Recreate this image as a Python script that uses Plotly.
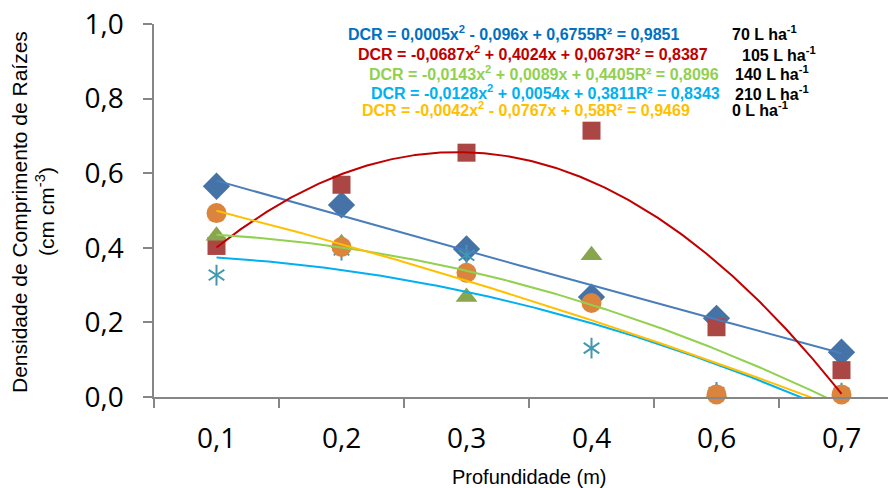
import numpy as np
import plotly.graph_objects as go

# ---- data ----
depth_labels = ["0,1", "0,2", "0,3", "0,4", "0,6", "0,7"]
y_ticks = [0.0, 0.2, 0.4, 0.6, 0.8, 1.0]
y_tick_labels = ["0,0", "0,2", "0,4", "0,6", "0,8", "1,0"]
series_names = ["70 L ha-1", "105 L ha-1", "140 L ha-1", "210 L ha-1", "0 L ha-1"]
dcr_70 = [0.565, 0.515, 0.397, 0.268, 0.211, 0.120]
dcr_105 = [0.405, 0.569, 0.655, 0.714, 0.187, 0.072]
dcr_140 = [0.432, 0.412, 0.268, 0.380, 0.012, 0.010]
dcr_210 = [0.327, 0.394, 0.380, 0.131, 0.012, 0.010]
dcr_0 = [0.493, 0.402, 0.333, 0.252, 0.007, 0.007]
# trendline coefficients shown on the chart (a x^2 + b x + c), x = category index
coef_70 = [0.0005, -0.096, 0.6755]
coef_105 = [-0.0687, 0.4024, 0.0673]
coef_140 = [-0.0143, 0.0089, 0.4405]
coef_210 = [-0.0128, 0.0054, 0.3811]
coef_0 = [-0.0042, -0.0767, 0.58]
eq_texts = [
    "DCR = 0,0005x<sup>2</sup> - 0,096x + 0,6755R² = 0,9851",
    "DCR = -0,0687x<sup>2</sup> + 0,4024x + 0,0673R² = 0,8387",
    "DCR = -0,0143x<sup>2</sup> + 0,0089x + 0,4405R² = 0,8096",
    "DCR = -0,0128x<sup>2</sup> + 0,0054x + 0,3811R² = 0,8343",
    "DCR = -0,0042x<sup>2</sup> - 0,0767x + 0,58R² = 0,9469",
]
dose_labels = ["70 L ha<sup>-1</sup>", "105 L ha<sup>-1</sup>", "140 L ha<sup>-1</sup>",
               "210 L ha<sup>-1</sup>", "0 L ha<sup>-1</sup>"]

# page body has an 8px margin, so the figure is 8px smaller and offset
OFF = 8
W, H = 896 - OFF, 488 - OFF
ML, MR, MT = 154 - OFF, 0, 24 - OFF
PH = 373
MB = H - MT - PH
PW = W - ML - MR

xi = list(range(1, len(depth_labels) + 1))

fig = go.Figure()

# markers
marker_specs = [
    (dcr_70, dict(symbol="diamond", size=21, color="#4572A7")),
    (dcr_105, dict(symbol="square", size=18, color="#AA4643")),
    (dcr_140, dict(symbol="triangle-up", size=19, color="#89A54E")),
]
for (vals, mk), name in zip(marker_specs, series_names[:3]):
    fig.add_trace(go.Scatter(x=xi, y=vals, mode="markers", name=name,
                             marker=dict(line=dict(width=0), **mk), cliponaxis=False,
                             showlegend=False))
for sym in ["y-up-open", "y-down-open"]:
    fig.add_trace(go.Scatter(x=xi, y=dcr_210, mode="markers", name=series_names[3],
                             marker=dict(symbol=sym, size=13, color="#4198AF",
                                         line=dict(width=2, color="#4198AF")),
                             cliponaxis=False, showlegend=False))
fig.add_trace(go.Scatter(x=xi, y=dcr_0, mode="markers", name=series_names[4],
                         marker=dict(symbol="circle", size=20, color="#DB843D",
                                     line=dict(width=0)),
                         cliponaxis=False, showlegend=False))

# trendlines
xs = np.linspace(1, 6, 300)
line_specs = [(coef_70, "#4A7EBB"), (coef_105, "#C00000"), (coef_140, "#92D050"),
              (coef_210, "#00B0F0"), (coef_0, "#FFC000")]
for (a, b, c), col in line_specs:
    ys = a * xs ** 2 + b * xs + c
    fig.add_trace(go.Scatter(x=xs, y=ys, mode="lines", line=dict(color=col, width=2),
                             hoverinfo="skip", showlegend=False))

def px2paper(px, py):
    # px, py are screenshot pixel coordinates
    return (px - OFF - ML) / PW, (MT + PH - (py - OFF)) / PH

eq_colors = ["#0070C0", "#C00000", "#92D050", "#00B0F0", "#FFC000"]
eq_pos = [(346, 33), (356, 53), (367, 73), (369, 92), (360, 109)]
dose_pos = [(730, 33), (740, 54), (733, 73), (733, 93), (730, 109)]
anns = []
for t, col, (px, py) in zip(eq_texts, eq_colors, eq_pos):
    x, y = px2paper(px, py)
    anns.append(dict(text="<b>" + t + "</b>", x=x, y=y, xref="paper", yref="paper",
                     xanchor="left", yanchor="middle", showarrow=False,
                     font=dict(family="Liberation Sans", size=16, color=col)))
for t, (px, py) in zip(dose_labels, dose_pos):
    x, y = px2paper(px, py)
    anns.append(dict(text="<b>" + t + "</b>", x=x, y=y, xref="paper", yref="paper",
                     xanchor="left", yanchor="middle", showarrow=False,
                     font=dict(family="Liberation Sans", size=16, color="#000000")))
# y-axis title (two lines)
for txt, px in [("Densidade de Comprimento de Raízes", 19), ("(cm cm<sup>-3</sup>)", 45)]:
    x, y = px2paper(px, 212)
    anns.append(dict(text=txt, x=x, y=y, xref="paper", yref="paper", textangle=-90,
                     xanchor="center", yanchor="middle", showarrow=False,
                     font=dict(family="Liberation Sans", size=21, color="#000000")))
# x-axis title
x, y = px2paper(529, 477)
anns.append(dict(text="Profundidade (m)", x=x, y=y, xref="paper", yref="paper",
                 xanchor="center", yanchor="middle", showarrow=False,
                 font=dict(family="Liberation Sans", size=20, color="#000000")))

fig.update_layout(
    width=W, height=H,
    margin=dict(l=ML, r=MR, t=MT, b=MB, autoexpand=False),
    paper_bgcolor="white", plot_bgcolor="white",
    annotations=anns,
    xaxis=dict(range=[0.5, 0.5 + PW / 125.0], tickmode="array", tickvals=xi,
               ticktext=depth_labels, ticks="", showgrid=False, zeroline=False,
               showline=True, linecolor="#868686", linewidth=1.5, automargin=False,
               tickfont=dict(family="Open Sans", size=28, color="#000000"),
               ticklabelstandoff=16,
               minor=dict(tickmode="array", tickvals=[i + 0.5 for i in range(0, 7)],
                          ticks="outside", ticklen=9, tickwidth=1.5, tickcolor="#868686",
                          showgrid=False)),
    yaxis=dict(range=[0, 1], tickmode="array", tickvals=y_ticks, ticktext=y_tick_labels,
               ticks="outside", ticklen=9,
               tickwidth=1.5, tickcolor="#868686", showgrid=False, zeroline=False,
               showline=True, linecolor="#868686", linewidth=1.5, automargin=False,
               ticklabelstandoff=14, ticklabeloverflow="allow",
               tickfont=dict(family="Open Sans", size=28, color="#000000")),
)

fig.write_html("out.html")
